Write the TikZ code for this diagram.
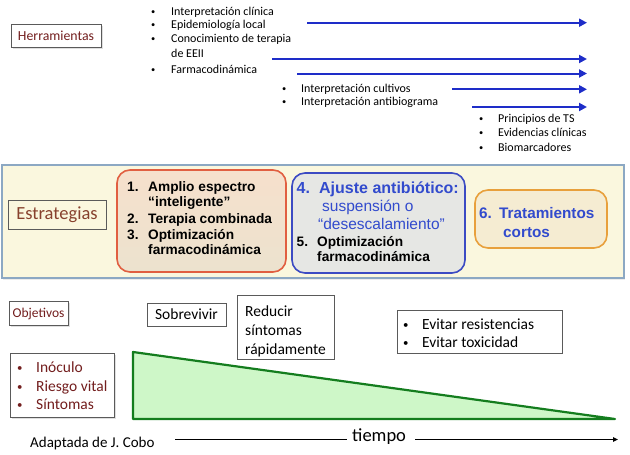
\documentclass[tikz,border=0pt]{standalone}
\usepackage{fontspec}
\usepackage{graphicx}
\setmainfont{Carlito}
\newfontfamily\arialf{Liberation Sans}
\usetikzlibrary{arrows.meta,shadows}
\definecolor{dred}{RGB}{115,30,30}
\definecolor{estc}{RGB}{135,65,45}
\definecolor{arrblue}{RGB}{30,45,200}
\definecolor{bandfill}{RGB}{250,247,222}
\definecolor{bandline}{RGB}{140,168,195}
\definecolor{redline}{RGB}{225,95,65}
\definecolor{redtop}{RGB}{246,224,204}
\definecolor{redbot}{RGB}{236,226,206}
\definecolor{blueline}{RGB}{60,75,195}
\definecolor{bluefill}{RGB}{230,231,228}
\definecolor{bluetxt}{RGB}{50,75,205}
\definecolor{orline}{RGB}{232,160,60}
\definecolor{orfill}{RGB}{245,236,210}
\definecolor{trigreen}{RGB}{20,125,30}
\definecolor{trifill}{RGB}{206,247,200}
\definecolor{boxline}{RGB}{90,90,90}
\newcommand\fsz[1]{\fontsize{#1}{#1}\selectfont}
\newcommand\bul{\raisebox{0.08em}{\scalebox{0.7}{•}}}
\begin{document}
\begin{tikzpicture}[x=1pt,y=-1pt,
  ln/.style={inner sep=0pt,anchor=base west},
  tl/.style={ln,font=\fsz{12}},
  st/.style={ln,font=\arialf\bfseries\fsz{13.7}},
  lbox/.style={draw=boxline,line width=0.6pt,fill=white,inner sep=0pt},
  shd/.style={drop shadow={shadow xshift=1.5pt,shadow yshift=-1.5pt,opacity=0.25}},
  barrow/.style={arrblue,line width=2pt,-{Triangle[length=8pt,width=8pt]}},
  rbox/.style={rounded corners=13pt,line width=1.6pt,inner sep=0pt}]
\useasboundingbox (0,0) rectangle (630,455);
% Herramientas
\node[lbox,shd,minimum width=90pt,minimum height=23pt,font=\fsz{13.8},text=dred] (herr) at (56,35.5) {Herramientas};
% list 1
\node[tl] (l1a) at (151,15.8) {\makebox[20pt][l]{\bul}Interpretación clínica};
\node[tl] (l1b) at (151,28.8) {\makebox[20pt][l]{\bul}Epidemiología local};
\node[tl] (l1c) at (151,42.8) {\makebox[20pt][l]{\bul}Conocimiento de terapia};
\node[tl] (l1d) at (171,57) {de EEII};
\node[tl] (l1e) at (151,73) {\makebox[20pt][l]{\bul}Farmacodinámica};
% list 2
\node[tl] (l2a) at (282,92.5) {\makebox[19pt][l]{\bul}Interpretación cultivos};
\node[tl] (l2b) at (282,105.5) {\makebox[19pt][l]{\bul}Interpretación antibiograma};
% list 3
\node[tl] (l3a) at (479,122.5) {\makebox[19pt][l]{\bul}Principios de TS};
\node[tl] (l3b) at (479,136.5) {\makebox[19pt][l]{\bul}Evidencias clínicas};
\node[tl] (l3c) at (479,151.5) {\makebox[19pt][l]{\bul}Biomarcadores};
% blue arrows
\coordinate (a1s) at (307,22.7); \coordinate (a1e) at (587,22.7);
\coordinate (a2s) at (272,59);   \coordinate (a2e) at (587,59);
\coordinate (a3s) at (297,73.5); \coordinate (a3e) at (587,73.5);
\coordinate (a4s) at (452,89.3); \coordinate (a4e) at (587,89.3);
\coordinate (a5s) at (472,107);  \coordinate (a5e) at (587,107);
\draw[barrow] (a1s) -- (a1e);
\draw[barrow] (a2s) -- (a2e);
\draw[barrow] (a3s) -- (a3e);
\draw[barrow] (a4s) -- (a4e);
\draw[barrow] (a5s) -- (a5e);
% strategy band
\node[draw=bandline,line width=1.6pt,fill=bandfill,minimum width=622pt,minimum height=113pt,inner sep=0pt,drop shadow={shadow xshift=1pt,shadow yshift=-1.5pt,opacity=0.15}] (band) at (313,221.5) {};
\node[draw=boxline,line width=0.6pt,minimum width=98pt,minimum height=29pt,inner sep=0pt,font=\fsz{18.5},text=estc] (estr) at (57,214.5) {Estrategias};
\node[rbox,draw=redline,top color=redtop,bottom color=redbot,minimum width=169pt,minimum height=102pt] (redb) at (201.5,221) {};
\node[rbox,draw=blueline,fill=bluefill,minimum width=173pt,minimum height=100pt] (blueb) at (378.5,223) {};
\node[rbox,draw=orline,fill=orfill,minimum width=132pt,minimum height=58pt] (orb) at (541,219) {};
% red box text
\node[st] (r1) at (127,191.1) {\makebox[21pt][l]{1.}Amplio espectro};
\node[st] (r2) at (148,206.1) {“inteligente”};
\node[st] (r3) at (127,223.1) {\makebox[21pt][l]{2.}Terapia combinada};
\node[st] (r4) at (127,239.1) {\makebox[21pt][l]{3.}Optimización};
\node[st] (r5) at (148,254.1) {farmacodinámica};
% blue box text
\node[ln,font=\arialf\bfseries\fsz{16},text=bluetxt] (b1) at (296.5,193.3) {\makebox[22.5pt][l]{4.}Ajuste antibiótico:};
\node[ln,font=\arialf\fsz{15.5},text=bluetxt] (b2) at (322,211.6) {suspensión o};
\node[ln,font=\arialf\fsz{15.5},text=bluetxt] (b3) at (318,229) {“desescalamiento”};
\node[st] (b4) at (296.5,246.1) {\makebox[20.5pt][l]{5.}Optimización};
\node[st] (b5) at (317,261.6) {farmacodinámica};
% orange box text
\node[ln,font=\arialf\bfseries\fsz{15.3},text=bluetxt] (o1) at (479,218.6) {\makebox[20pt][l]{6.}Tratamientos};
\node[ln,font=\arialf\bfseries\fsz{15.3},text=bluetxt] (o2) at (503,237.6) {cortos};
% objetivos
\node[lbox,shd,minimum width=59pt,minimum height=24pt,font=\fsz{13.5},text=dred] (obj) at (38.5,313.5) {Objetivos};
\node[lbox,minimum width=79pt,minimum height=23pt,font=\fsz{15.5}] (sob) at (186.5,314.5) {Sobrevivir};
\node[lbox,minimum width=97pt,minimum height=64pt] (redu) at (285.5,327) {};
\node[ln,font=\fsz{15.5}] (re1) at (245,316.6) {Reducir};
\node[ln,font=\fsz{15.5}] (re2) at (245,335.6) {síntomas};
\node[ln,font=\fsz{15.5}] (re3) at (245,354.6) {rápidamente};
\node[lbox,minimum width=165pt,minimum height=43pt] (evit) at (479.5,331.5) {};
\node[ln,font=\fsz{15.5}] (ev1) at (403,329.6) {\makebox[19pt][l]{\bul}Evitar resistencias};
\node[ln,font=\fsz{15.5}] (ev2) at (403,347.6) {\makebox[19pt][l]{\bul}Evitar toxicidad};
\node[lbox,shd,minimum width=104pt,minimum height=64pt] (inoc) at (62,385) {};
\node[ln,font=\fsz{15.5},text=dred] (in1) at (17,372.6) {\makebox[19pt][l]{\bul}Inóculo};
\node[ln,font=\fsz{15.5},text=dred] (in2) at (17,391.6) {\makebox[19pt][l]{\bul}Riesgo vital};
\node[ln,font=\fsz{15.5},text=dred] (in3) at (17,409.6) {\makebox[19pt][l]{\bul}Síntomas};
% triangle
\draw[draw=trigreen,fill=trifill,line width=2.2pt,line join=round] (133,352) -- (133,419) -- (615,419) -- cycle;
% bottom
\node[ln,font=\fsz{15}] (adap) at (30,447.5) {Adaptada de J. Cobo};
\node[ln,font=\fsz{18.5}] (tiem) at (352,441.5) {tiempo};
\coordinate (t1s) at (175,439.5); \coordinate (t1e) at (347,439.5);
\coordinate (t2s) at (415,439.5); \coordinate (t2e) at (618,439.5);
\draw[line width=1.3pt] (t1s) -- (t1e);
\draw[line width=1.3pt,-{Triangle[length=5pt,width=4.5pt]}] (t2s) -- (t2e);
\end{tikzpicture}
\end{document}
